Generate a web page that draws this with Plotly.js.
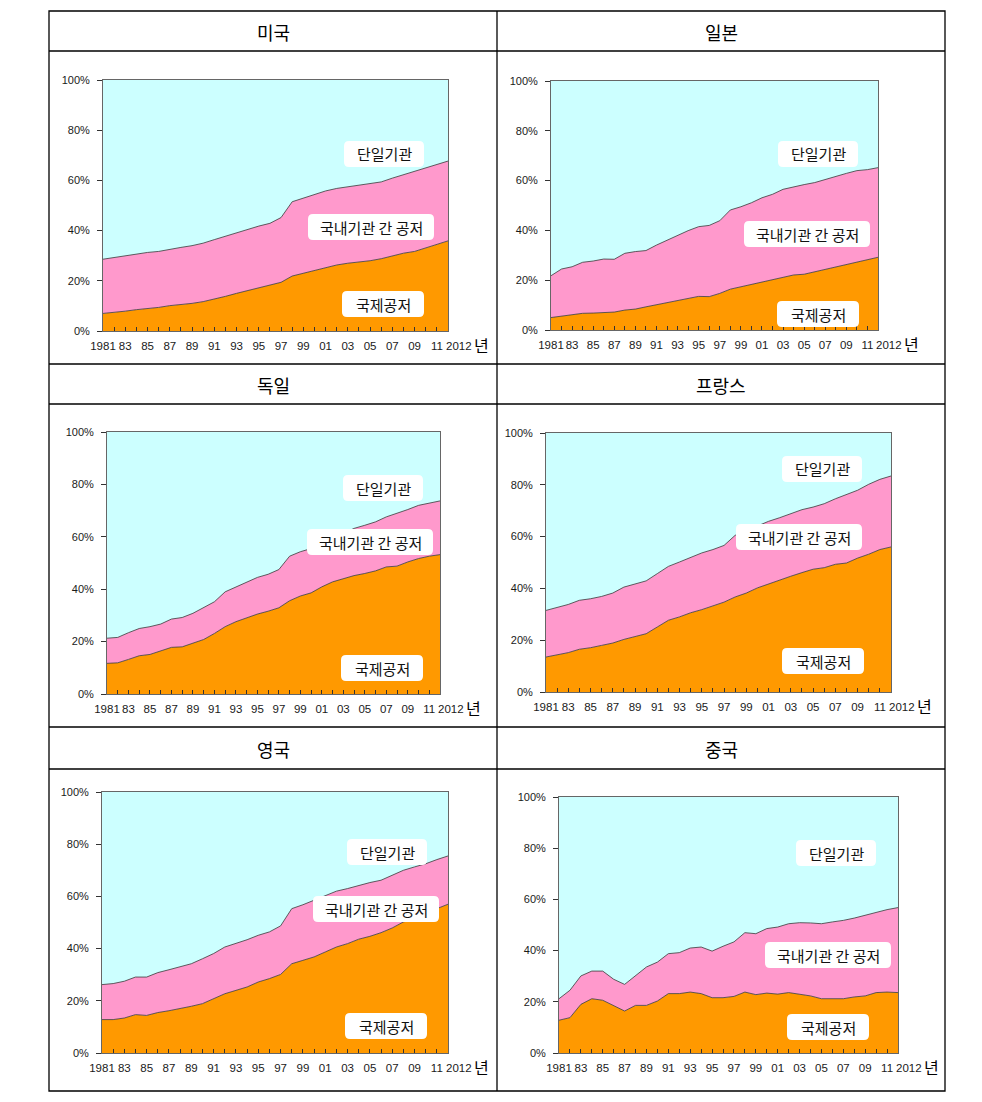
<!DOCTYPE html>
<html>
<head>
<meta charset="utf-8">
<script src="https://cdn.plot.ly/plotly-3.0.1.min.js"></script>
<style>
  html, body { margin: 0; padding: 0; background: #ffffff; }
  #chart { width: 982px; height: 1102px; }
</style>
</head>
<body>
<div id="chart"></div>
<script>
// ---------------- DATA ----------------
const countries = ['미국', '일본', '독일', '프랑스', '영국', '중국'];
const years = [1981,1982,1983,1984,1985,1986,1987,1988,1989,1990,1991,1992,1993,1994,1995,1996,
               1997,1998,1999,2000,2001,2002,2003,2004,2005,2006,2007,2008,2009,2010,2011,2012];
const xTickVals = [1981,1983,1985,1987,1989,1991,1993,1995,1997,1999,2001,2003,2005,2007,2009,2011];
const xTickText = ['1981','83','85','87','89','91','93','95','97','99','01','03','05','07','09','11'];
const yTickVals = [0, 20, 40, 60, 80, 100];
const yTickText = ['0%', '20%', '40%', '60%', '80%', '100%'];
const seriesNames = ['단일기관', '국내기관 간 공저', '국제공저'];

// 국제공저 share (%) — lower boundary
const usIntl = [7.0,7.4,7.9,8.5,8.8,9.4,10.1,10.5,11.0,11.7,12.6,13.8,15.0,16.1,17.1,18.0,
                19.4,21.9,23.0,24.2,25.4,26.3,27.0,27.5,28.0,28.8,30.0,31.0,31.7,33.1,34.5,35.9];
// 국제공저 + 국내기관 간 공저 (%) — upper boundary
const usIntlDom = [28.6,29.3,29.9,30.6,31.3,31.7,32.6,33.3,34.0,35.0,36.4,37.8,38.9,40.3,41.8,42.9,
                   45.2,51.5,53.0,54.4,55.8,56.8,57.5,58.1,58.6,59.4,60.9,62.3,63.6,64.9,66.3,67.7];

const jpIntl = [5.0,5.6,6.0,6.7,6.8,7.0,7.2,8.0,8.4,9.3,10.2,11.0,12.0,12.8,13.5,13.4,
                14.7,16.4,17.3,18.4,19.4,20.3,21.2,22.1,22.4,23.4,24.1,25.1,26.1,27.2,28.1,29.2];
const jpIntlDom = [21.8,24.5,25.4,27.2,27.7,28.5,28.4,30.8,31.5,31.9,34.1,36.1,37.9,39.9,41.5,42.0,
                   43.9,48.2,49.5,51.1,53.1,54.5,56.5,57.6,58.4,59.2,60.5,61.6,62.9,64.0,64.4,65.2];

const deIntl = [11.7,11.9,13.2,14.6,15.1,16.4,17.8,18.0,19.3,20.8,23.1,25.7,27.6,29.2,30.5,31.6,
                32.9,35.6,37.4,38.6,40.9,42.8,44.1,45.2,46.0,47.0,48.5,48.8,50.4,51.7,52.6,53.2];
const deIntlDom = [21.3,21.6,23.4,25.0,25.7,26.7,28.6,29.2,30.8,33.0,35.2,39.0,40.9,42.8,44.5,45.7,
                   47.5,52.6,54.3,55.5,57.4,59.3,61.2,63.2,64.4,65.7,67.6,68.9,70.4,72.0,72.9,73.7];

const frIntl = [13.5,14.4,15.2,16.5,17.1,18.0,18.9,20.3,21.5,22.5,25.1,27.7,29.0,30.6,31.8,33.1,
                34.7,36.7,38.2,40.2,41.8,43.1,44.7,46.1,47.4,48.0,49.3,49.8,51.7,53.2,55.0,56.0];
const frIntlDom = [31.5,32.6,33.8,35.4,36.0,36.9,38.2,40.5,41.6,42.9,45.7,48.5,50.2,52.1,53.7,55.0,
                   56.6,60.5,62.4,64.0,65.9,67.3,68.9,70.4,71.4,72.7,74.6,76.2,77.9,80.2,82.1,83.4];

const ukIntl = [12.8,12.8,13.4,14.7,14.4,15.5,16.2,17.0,17.9,18.9,20.8,22.7,24.0,25.3,27.2,28.5,
                30.1,34.2,35.5,36.8,38.7,40.6,41.9,43.6,44.7,46.1,47.9,50.2,51.5,53.0,55.3,57.0];
const ukIntlDom = [26.2,26.6,27.5,29.1,29.1,30.8,31.9,33.2,34.2,36.1,38.1,40.6,41.9,43.4,45.1,46.4,
                   48.7,55.3,56.8,58.5,60.4,62.0,63.0,64.2,65.3,66.2,68.1,70.0,71.3,72.5,74.1,75.5];

const cnIntl = [12.8,13.8,19.0,21.2,20.6,18.6,16.4,18.6,18.6,20.3,23.2,23.2,23.8,23.2,21.6,21.6,
                22.1,23.8,22.8,23.4,23.0,23.6,23.0,22.3,21.2,21.2,21.2,21.9,22.3,23.6,23.8,23.6];
const cnIntlDom = [21.2,24.5,30.1,32.0,32.0,28.8,26.8,30.3,33.6,35.5,38.8,39.2,41.0,41.4,39.8,41.7,
                   43.4,47.0,46.6,48.6,49.2,50.5,50.9,50.8,50.5,51.2,51.8,52.7,53.8,54.8,56.0,56.8];

const intlSeries = [usIntl, jpIntl, deIntl, frIntl, ukIntl, cnIntl];
const intlDomSeries = [usIntlDom, jpIntlDom, deIntlDom, frIntlDom, ukIntlDom, cnIntlDom];

// ---------------- LAYOUT HELPERS ----------------
const W = 982, H = 1102;
const px = v => v / W;
const py = v => 1 - v / H;

// plot rectangles in pixels: [left, right, top, bottom]
const plotRects = [
  [103, 448, 80, 331],
  [551, 878, 81, 330],
  [107, 440, 432, 694],
  [546, 891, 433, 692],
  [102, 448, 792, 1053],
  [559, 898, 797, 1053]
];
// title centres
const titlePos = [[273, 32], [721, 32], [273, 385], [721, 385], [273, 749], [721, 749]];
// label boxes: [cx, cy, width] for 단일기관, 국내기관 간 공저, 국제공저
const labelPos = [
  [[384, 154, 80], [371, 227, 126], [383, 304, 82]],
  [[818, 154, 80], [807, 234, 126], [818, 314, 82]],
  [[383, 488, 80], [370, 542, 126], [382, 668, 82]],
  [[822, 469, 80], [799, 537, 126], [823, 661, 82]],
  [[387, 852, 80], [376, 909, 126], [386, 1026, 82]],
  [[836, 853, 80], [828, 955, 126], [828, 1027, 82]]
];

const COL_SINGLE = '#CCFFFF', COL_DOM = '#FF99CC', COL_INTL = '#FF9900';
const sans = '"Liberation Sans", Arial, sans-serif';
const xTickFont = {family: sans, size: 11.5, color: '#1a1a1a'};
const yTickFont = {family: sans, size: 11, color: '#1a1a1a'};
const krFont = '"Noto Sans CJK KR", "Noto Sans", sans-serif';

const traces = [];
const layout = {
  width: W, height: H,
  margin: {l: 0, r: 0, t: 0, b: 0},
  paper_bgcolor: '#ffffff',
  plot_bgcolor: COL_SINGLE,
  showlegend: false,
  shapes: [],
  annotations: []
};

function roundRect(cx, cy, w, h, r) {
  const x0 = cx - w / 2, x1 = cx + w / 2, y0 = cy - h / 2, y1 = cy + h / 2;
  const P = (x, y) => px(x).toFixed(5) + ',' + py(y).toFixed(5);
  return 'M' + P(x0 + r, y0) + ' L' + P(x1 - r, y0) + ' Q' + P(x1, y0) + ' ' + P(x1, y0 + r) +
         ' L' + P(x1, y1 - r) + ' Q' + P(x1, y1) + ' ' + P(x1 - r, y1) +
         ' L' + P(x0 + r, y1) + ' Q' + P(x0, y1) + ' ' + P(x0, y1 - r) +
         ' L' + P(x0, y0 + r) + ' Q' + P(x0, y0) + ' ' + P(x0 + r, y0) + ' Z';
}

countries.forEach((name, i) => {
  const k = i + 1;
  const xa = 'x' + (k === 1 ? '' : k), ya = 'y' + (k === 1 ? '' : k);
  const xkey = 'xaxis' + (k === 1 ? '' : k), ykey = 'yaxis' + (k === 1 ? '' : k);
  const [l, r, t, b] = plotRects[i];

  traces.push({
    x: years, y: intlSeries[i], type: 'scatter', mode: 'lines',
    name: seriesNames[2], fill: 'tozeroy', fillcolor: COL_INTL,
    line: {color: '#3a3a3a', width: 0.8}, xaxis: xa, yaxis: ya, hoverinfo: 'x+y'
  });
  traces.push({
    x: years, y: intlDomSeries[i], type: 'scatter', mode: 'lines',
    name: seriesNames[1], fill: 'tonexty', fillcolor: COL_DOM,
    line: {color: '#3a3a3a', width: 0.8}, xaxis: xa, yaxis: ya, hoverinfo: 'x+y'
  });

  layout[xkey] = {
    domain: [px(l), px(r)], anchor: ya, range: [1981, 2012], fixedrange: true,
    tickmode: 'array', tickvals: xTickVals, ticktext: xTickText, tickangle: 0,
    ticks: 'inside', ticklen: 4, tickcolor: '#333', tickwidth: 1,
    minor: {tickmode: 'linear', tick0: 1981, dtick: 1, ticks: 'inside', ticklen: 4, tickcolor: '#333', showgrid: false},
    showgrid: false, zeroline: false, showline: true, mirror: true, linecolor: '#666', linewidth: 1,
    tickfont: xTickFont, ticklabelstandoff: 4
  };
  layout[ykey] = {
    domain: [py(b), py(t)], anchor: xa, range: [0, 100], fixedrange: true,
    tickmode: 'array', tickvals: yTickVals, ticktext: yTickText,
    ticks: 'outside', ticklen: 5, tickcolor: '#333',
    showgrid: false, zeroline: false, showline: true, mirror: true, linecolor: '#666', linewidth: 1,
    tickfont: yTickFont, ticklabelstandoff: 5
  };

  // title
  layout.annotations.push({
    xref: 'paper', yref: 'paper', x: px(titlePos[i][0]), y: py(titlePos[i][1]),
    xanchor: 'center', yanchor: 'middle', showarrow: false, text: name,
    font: {family: krFont, size: 18, color: '#000'}
  });
  // "2012" and "년"
  layout.annotations.push({
    xref: xa + ' domain', yref: ya + ' domain', x: 1, y: 0, xanchor: 'left', yanchor: 'middle',
    xshift: -4, yshift: -15, showarrow: false, text: '2012', font: xTickFont
  });
  layout.annotations.push({
    xref: xa + ' domain', yref: ya + ' domain', x: 1, y: 0, xanchor: 'left', yanchor: 'middle',
    xshift: 24, yshift: -14, showarrow: false, text: '년',
    font: {family: krFont, size: 16, color: '#000'}
  });

  // series labels in white rounded boxes
  seriesNames.forEach((s, j) => {
    const [cx, cy, w] = labelPos[i][j];
    layout.shapes.push({
      type: 'path', xref: 'paper', yref: 'paper', layer: 'above',
      path: roundRect(cx, cy, w, 26, 5), fillcolor: '#ffffff', line: {width: 0}
    });
    layout.annotations.push({
      xref: 'paper', yref: 'paper', x: px(cx), y: py(cy), xanchor: 'center', yanchor: 'middle',
      showarrow: false, text: s, font: {family: krFont, size: 15, color: '#111'}
    });
  });
});

// table grid lines
const tableLine = {color: '#000', width: 1.3};
const T = {l: 49, r: 945, t: 11, b: 1091};
layout.shapes.push({type: 'rect', xref: 'paper', yref: 'paper', x0: px(T.l), x1: px(T.r), y0: py(T.b), y1: py(T.t), line: tableLine, layer: 'above'});
[51, 364, 404, 727, 769].forEach(y => {
  layout.shapes.push({type: 'line', xref: 'paper', yref: 'paper', x0: px(T.l), x1: px(T.r), y0: py(y), y1: py(y), line: tableLine, layer: 'above'});
});
layout.shapes.push({type: 'line', xref: 'paper', yref: 'paper', x0: px(497), x1: px(497), y0: py(T.b), y1: py(T.t), line: tableLine, layer: 'above'});

Plotly.newPlot('chart', traces, layout, {displayModeBar: false, staticPlot: true});
</script>
</body>
</html>
